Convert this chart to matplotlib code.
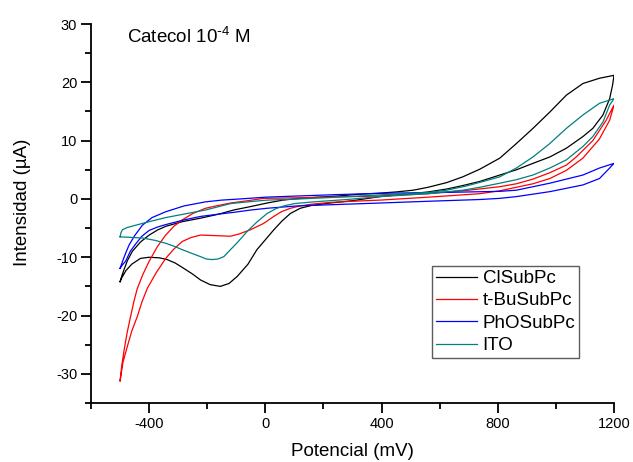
import matplotlib
matplotlib.use("Agg")
import matplotlib.pyplot as plt
from matplotlib.ticker import MultipleLocator

plt.rcParams['font.family'] = ['Liberation Sans', 'DejaVu Sans']
plt.rcParams['mathtext.default'] = 'regular'
plt.rcParams['axes.unicode_minus'] = False

# ClSubPc (black) - forward branch then reverse branch
cl_v = [-500, -494, -487, -475, -458, -430, -400, -370, -343, -286, -223, -160, -109, -50, 6, 60, 120, 180, 250, 320,
        395, 450, 509, 560, 624, 680, 738, 807, 864, 921, 979, 1036, 1093, 1150, 1200,
        1195, 1185, 1162, 1127, 1093, 1036, 979, 921, 864, 807, 738, 680, 624, 560, 500, 395, 300, 223, 160, 120, 86, 57,
        29, 0, -29, -60, -97, -125, -155, -190, -223, -250, -281, -310, -338, -365, -400, -430, -460, -480, -495, -500]
cl_i = [-14.2, -13.2, -12.2, -10.6, -9.0, -7.4, -6.2, -5.3, -4.7, -3.9, -3.3, -2.6, -1.9, -1.3, -0.7, -0.2, 0.1, 0.3, 0.5, 0.8,
        1.0, 1.2, 1.5, 2.0, 2.8, 3.8, 5.1, 7.0, 9.5, 12.1, 14.9, 17.8, 19.8, 20.7, 21.2,
        19.5, 17.2, 14.4, 12.1, 10.7, 8.7, 7.2, 6.1, 5.0, 4.1, 3.0, 2.3, 1.7, 1.2, 0.9, 0.4, -0.3, -0.7, -1.1, -1.6, -2.5, -3.8,
        -5.3, -7.0, -8.7, -11.2, -13.3, -14.5, -15.0, -14.7, -13.9, -12.9, -11.9, -11.0, -10.4, -10.1, -10.0, -10.2, -11.2, -12.3, -13.6, -14.2]

# t-BuSubPc (red)
bu_v = [-500, -494, -486, -476, -464, -453, -441, -422, -400, -372, -343, -315, -286, -250, -206, -160, -120, -60, -6, 120,
        250, 395, 560, 700, 807, 864, 921, 979, 1036, 1070, 1127, 1173, 1200,
        1185, 1150, 1093, 1036, 979, 921, 864, 807, 738, 560, 395, 300, 223, 160, 120, 86, 55, 29, -6, -52,
        -90, -120, -166, -223, -255, -286, -315, -343, -375, -406, -425, -441, -460, -475, -490, -500]
bu_i = [-31.2, -28.5, -25.9, -23.0, -20.2, -17.7, -15.4, -13.0, -10.7, -8.2, -6.2, -4.7, -3.6, -2.5, -1.6, -1.1, -0.7, -0.3, 0.1, 0.2,
        0.35, 0.5, 0.9, 1.5, 2.1, 2.6, 3.4, 4.5, 5.8, 7.2, 10.0, 13.5, 16.1,
        13.5, 10.3, 7.0, 4.9, 3.5, 2.6, 2.0, 1.4, 0.9, 0.3, -0.2, -0.4, -0.6, -0.9, -1.2, -1.6, -2.2, -3.0, -4.2, -5.3,
        -6.0, -6.4, -6.3, -6.2, -6.6, -7.3, -8.6, -10.2, -12.6, -15.3, -17.7, -20.2, -22.7, -25.3, -28.0, -31.2]

# PhOSubPc (blue)
ph_v = [-500, -490, -480, -469, -450, -423, -390, -343, -280, -206, -150, -86, 0, 109, 250, 429, 600, 700, 807, 864,
        979, 1093, 1150, 1200,
        1185, 1150, 1093, 979, 864, 807, 738, 560, 395, 250, 109, 6, -50, -109, -160, -223, -280, -343, -370,
        -400, -425, -446, -465, -481, -492, -500]
ph_i = [-11.9, -10.5, -9.2, -7.9, -6.3, -4.5, -3.2, -2.2, -1.2, -0.5, -0.2, 0.0, 0.3, 0.5, 0.75, 1.0, 1.1, 1.2, 1.3, 1.5,
        2.7, 4.1, 5.3, 6.1,
        5.3, 3.5, 2.4, 1.25, 0.4, 0.1, -0.1, -0.4, -0.7, -0.95, -1.2, -1.6, -1.9, -2.3, -2.6, -3.0, -3.6, -4.4, -4.8,
        -5.4, -6.4, -7.7, -9.0, -10.7, -11.3, -11.9]

# ITO (teal)
ito_v = [-500, -497, -492, -475, -446, -400, -343, -280, -206, -120, -60, 6, 120, 250, 395, 480, 560, 624, 690, 750,
         807, 864, 921, 979, 1036, 1093, 1150, 1200,
         1185, 1162, 1127, 1093, 1036, 979, 921, 864, 807, 738, 680, 560, 395, 280, 166, 100, 63, 35, 6, -30, -63,
         -95, -120, -143, -163, -183, -203, -223, -255, -286, -315, -343, -380, -423, -460, -500]
ito_i = [-6.5, -5.8, -5.3, -4.9, -4.5, -3.9, -3.2, -2.6, -1.9, -0.8, -0.5, -0.2, 0.0, 0.3, 0.7, 0.9, 1.1, 1.5, 2.2, 3.0,
         3.8, 5.3, 7.2, 9.5, 12.1, 14.4, 16.4, 17.2,
         16.1, 13.2, 10.7, 9.0, 6.7, 5.3, 4.1, 3.3, 2.7, 2.0, 1.5, 0.9, 0.4, -0.1, -0.5, -0.8, -1.2, -1.7, -2.5, -4.0, -5.6,
         -7.4, -8.7, -9.9, -10.3, -10.4, -10.3, -9.9, -9.3, -8.7, -8.1, -7.6, -7.1, -6.7, -6.6, -6.5]

labels = ["ClSubPc", "t-BuSubPc", "PhOSubPc", "ITO"]
colors = ["#000000", "#ff0000", "#0000ff", "#008080"]

fig = plt.figure(figsize=(6.33, 4.62), dpi=100)
ax = fig.add_axes([0.1438, 0.1277, 0.8262, 0.8203])

series = [(cl_v, cl_i), (bu_v, bu_i), (ph_v, ph_i), (ito_v, ito_i)]
for (v, i), lab, c in zip(series, labels, colors):
    ax.plot(v, i, color=c, lw=0.9, label=lab)

ax.set_xlim(-600, 1200)
ax.set_ylim(-35, 30)
ax.xaxis.set_major_locator(MultipleLocator(400))
ax.xaxis.set_minor_locator(MultipleLocator(200))
ax.yaxis.set_major_locator(MultipleLocator(10))
ax.yaxis.set_minor_locator(MultipleLocator(5))
ax.spines['top'].set_visible(False)
ax.spines['right'].set_visible(False)
for s in ['left', 'bottom']:
    ax.spines[s].set_linewidth(1.3)
ax.tick_params(which='major', direction='out', length=7, width=1.3, labelsize=10.5, pad=3)
ax.tick_params(which='minor', direction='out', length=4, width=1.3)

ax.set_xlabel("Potencial (mV)", fontsize=13.5)
ax.set_ylabel("Intensidad (µA)", fontsize=13.5)
ax.xaxis.set_label_coords(0.5, -0.105)
ax.yaxis.set_label_coords(-0.115, 0.53)

ax.text(0.068, 0.950, r"Catecol 10$^{\text{-}4}$ M", transform=ax.transAxes, fontsize=13.5, va='baseline')

leg = ax.legend(loc='upper left', bbox_to_anchor=(0.652, 0.361), borderaxespad=0, fontsize=13.5,
                handlelength=2.2, handletextpad=0.3, labelspacing=0.28, borderpad=0.2, fancybox=False)
leg.get_frame().set_edgecolor('#333333')
leg.get_frame().set_linewidth(1.0)

fig.savefig("out.png", dpi=100)
